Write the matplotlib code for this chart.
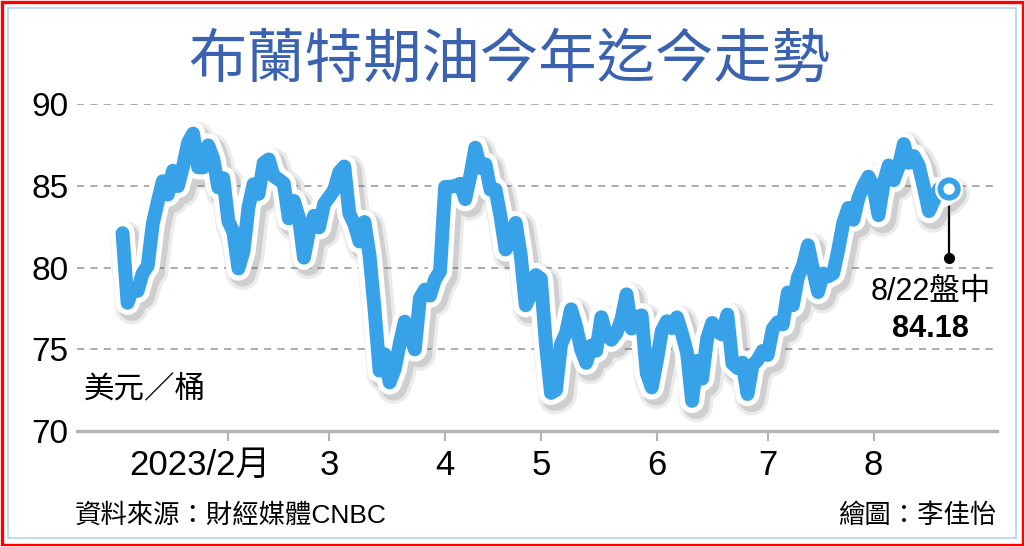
import matplotlib
matplotlib.use("Agg")
import numpy as np
import matplotlib.pyplot as plt
import matplotlib.patheffects as pe
from matplotlib.patches import Rectangle
from matplotlib.transforms import ScaledTranslation

plt.rcParams['font.family'] = ['Liberation Sans', 'Noto Sans CJK TC', 'DejaVu Sans']

# Brent daily prices (USD/bbl), one list per month
jan = [82.10, 77.84, 78.69, 78.57, 79.65, 80.10, 82.67, 84.03, 85.28, 84.46, 85.92,
       84.98, 86.16, 87.63, 88.19, 86.13, 86.12, 87.47, 86.66, 84.90, 85.46]
feb = [82.84, 82.17, 79.94, 80.99, 83.69, 85.09, 84.50, 86.39, 86.61, 85.58, 85.38,
       85.14, 83.00, 84.07, 83.05, 80.60, 82.21, 83.16, 82.45, 83.89]
mar = [84.31, 84.75, 85.83, 86.18, 83.29, 82.66, 81.59, 82.78, 80.77, 77.45, 73.69,
       74.70, 72.97, 73.79, 75.32, 76.69, 75.91, 74.99, 78.12, 78.65, 78.28, 79.27, 79.77]
apr = [84.93, 84.94, 84.99, 85.12, 84.18, 85.61, 87.33, 86.09, 86.31, 84.76, 84.77,
       83.12, 81.10, 81.66, 82.73, 80.77, 77.69, 78.37, 79.54]
may = [79.31, 75.32, 72.33, 72.50, 75.30, 76.01, 77.44, 76.41, 74.98, 74.17, 75.23,
       74.91, 76.96, 75.86, 75.58, 75.99, 76.84, 78.36, 76.26, 76.95, 77.07, 73.54, 72.66]
jun = [74.28, 76.13, 76.71, 76.29, 76.95, 75.96, 74.79, 71.84, 74.29, 73.20, 75.67,
       76.61, 76.09, 75.90, 77.12, 74.14, 73.85, 74.18, 72.26, 74.03, 74.34, 74.90]
jul = [74.65, 76.25, 76.65, 76.52, 78.47, 77.69, 79.40, 80.11, 81.36, 79.87, 78.50,
       79.63, 79.46, 79.64, 81.07, 82.74, 83.64, 82.92, 84.24, 84.99, 85.56]
aug = [84.91, 83.20, 85.14, 86.24, 85.34, 86.17, 87.55, 86.40, 86.81, 86.21, 84.89,
       83.45, 84.12, 84.80, 84.46, 84.80]

months = [jan, feb, mar, apr, may, jun, jul, aug]
tick_labels = ["2023/2月", "3", "4", "5", "6", "7", "8"]
y_ticks = [70, 75, 80, 85, 90]
last_label = "8/22盤中"
last_value = "84.18"

prices = np.concatenate(months)
x = np.arange(len(prices))
month_starts = np.cumsum([len(m) for m in months])[:-1]

blue = '#38a2e8'

fig = plt.figure(figsize=(10.24, 5.46), dpi=100)
ax = fig.add_axes([77 / 1024, 115 / 546, 920 / 1024, 327 / 546])

# grid
for y in y_ticks[1:]:
    ax.axhline(y, color='#a6a6a6', lw=1.3, ls=(0, (4, 3.4)), zorder=0)

# price line with white outline and soft shadow
ax.plot(x, prices, color=blue, lw=10, solid_joinstyle='round', solid_capstyle='round',
        zorder=3, clip_on=False,
        path_effects=[pe.SimpleLineShadow(offset=(3, -3.5), shadow_color='#606060', alpha=0.12, linewidth=24),
                      pe.SimpleLineShadow(offset=(3, -3.5), shadow_color='#606060', alpha=0.2, linewidth=19),
                      pe.Stroke(linewidth=17.5, foreground='white'),
                      pe.Normal()])

# last point marker + callout
dot_y = 80.6
ax.plot([x[-1], x[-1]], [prices[-1], dot_y], color='black', lw=1.6, zorder=2)
ax.plot(x[-1], dot_y, 'o', color='black', ms=7, zorder=2)
ax.plot(x[-1], prices[-1], 'o', ms=12.5, mfc='white', mec=blue, mew=4.2, zorder=4,
        path_effects=[pe.Stroke(linewidth=8, foreground='white'), pe.Normal()])
ax.annotate(last_label, (x[-1], dot_y), xytext=(-13.5, -24.5), textcoords='offset points',
            ha='center', va='center', fontsize=22)
ax.annotate(last_value, (x[-1], dot_y), xytext=(-13.5, -51), textcoords='offset points',
            ha='center', va='center', fontsize=22, fontweight='bold')

ax.set_xlim(-9.03, 173.5)
ax.set_ylim(70, 90)

for s in ['left', 'right', 'top']:
    ax.spines[s].set_visible(False)
ax.spines['bottom'].set_color('#b3b3b3')
ax.spines['bottom'].set_linewidth(2.4)

ax.set_yticks(y_ticks)
ax.set_yticklabels([str(v) for v in y_ticks])
ax.tick_params(axis='y', length=0, pad=6, labelsize=24)
ax.set_xticks(month_starts)
ax.set_xticklabels(tick_labels)
ax.tick_params(axis='x', length=7, width=1.5, color='#b3b3b3', pad=6, labelsize=25)
first = ax.get_xticklabels()[0]
first.set_transform(first.get_transform() + ScaledTranslation(-0.28, 0, fig.dpi_scale_trans))

ax.text(84 / 1024, 1 - 389 / 546, "美元／桶", transform=fig.transFigure, fontsize=22,
        va='center', ha='left')

# title, footer
fig.text(509 / 1024, 1 - 60 / 546, "布蘭特期油今年迄今走勢", ha='center', va='center',
         fontsize=42, color='#3a62b0', family=['Noto Sans CJK TC', 'DejaVu Sans'])
fig.text(75 / 1024, 1 - 516 / 546, "資料來源：財經媒體CNBC", ha='left', va='center', fontsize=19)
fig.text(996 / 1024, 1 - 516 / 546, "繪圖：李佳怡", ha='right', va='center', fontsize=19)

# frame
fig.add_artist(Rectangle((1.5 / 1024, 1.5 / 546), 1 - 3 / 1024, 1 - 3 / 546, transform=fig.transFigure,
                         fill=False, ec='#ff0000', lw=2.4))
fig.add_artist(Rectangle((8 / 1024, 8 / 546), 1 - 16 / 1024, 1 - 16 / 546, transform=fig.transFigure,
                         fill=False, ec='#b8d6f0', lw=1.3))

fig.savefig("out.png", dpi=100, facecolor='white')
